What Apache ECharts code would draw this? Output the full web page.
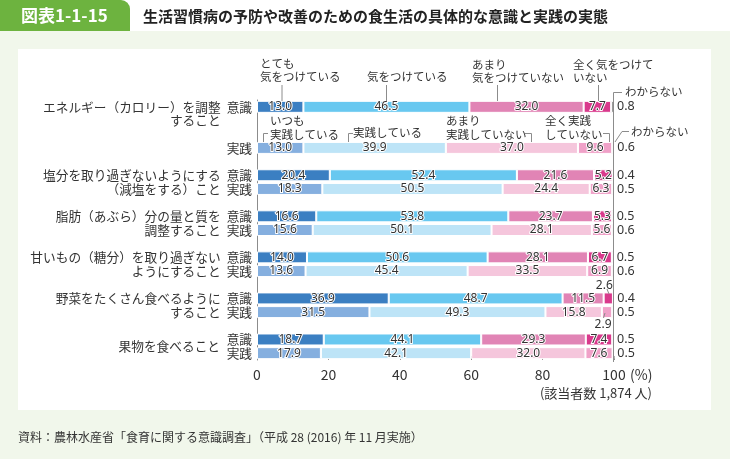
<!DOCTYPE html>
<html><head><meta charset="utf-8">
<script src="https://cdn.jsdelivr.net/npm/echarts@6/dist/echarts.min.js"></script>
<style>html,body{margin:0;padding:0;background:#f1f7eb}#c{width:730px;height:459px}</style>
</head><body><div id="c"></div>
<script>
// ---- data ----
const groupLine1 = ['エネルギー（カロリー）を調整','塩分を取り過ぎないようにする','脂肪（あぶら）分の量と質を','甘いもの（糖分）を取り過ぎない','野菜をたくさん食べるように','果物を食べること'];
const groupLine2 = ['すること','（減塩をする）こと','調整すること','ようにすること','すること',''];
const rowTypes = ['意識','実践'];
const ishikiTotemo     = [13.0, 20.4, 16.6, 14.0, 36.9, 18.7];
const ishikiKiwotsuke  = [46.5, 52.4, 53.8, 50.6, 48.7, 44.1];
const ishikiAmari      = [32.0, 21.6, 23.7, 28.1, 11.5, 29.3];
const ishikiMattaku    = [7.7, 5.2, 5.3, 6.7, 2.6, 7.4];
const ishikiWakaranai  = [0.8, 0.4, 0.5, 0.5, 0.4, 0.5];
const jissenItsumo     = [13.0, 18.3, 15.6, 13.6, 31.5, 17.9];
const jissenShiteiru   = [39.9, 50.5, 50.1, 45.4, 49.3, 42.1];
const jissenAmari      = [37.0, 24.4, 28.1, 33.5, 15.8, 32.0];
const jissenMattaku    = [9.6, 6.3, 5.6, 6.9, 2.9, 7.6];
const jissenWakaranai  = [0.6, 0.5, 0.6, 0.6, 0.5, 0.5];
const xTicks = [0, 20, 40, 60, 80, 100];

// ---- layout of row slots (top to bottom) ----
// ['r', group, typeIndex] = bar row, ['l2', group] = second text line only, ['b'] = blank
const slotLayout = [
  ['r',0,0],['l2',0],['b'],['r',0,1],['b'],
  ['r',1,0],['r',1,1],['b'],
  ['r',2,0],['r',2,1],['b'],
  ['r',3,0],['r',3,1],['b'],
  ['r',4,0],['r',4,1],['b'],
  ['r',5,0],['r',5,1]
];
const slotNames = slotLayout.map((s,i)=>'s'+i);

const ishikiSeries = [ishikiTotemo, ishikiKiwotsuke, ishikiAmari, ishikiMattaku, ishikiWakaranai];
const jissenSeries = [jissenItsumo, jissenShiteiru, jissenAmari, jissenMattaku, jissenWakaranai];
const ishikiColors = ['#3b7fc2','#68c8f0','#e184b5','#d9398c','#8a8a8a'];
const jissenColors = ['#85afdf','#bde4f7','#f5c6dc','#f0a1c8','#a8a8a8'];

const FONT = '"Noto Sans CJK JP","Noto Sans",sans-serif';
const insideLabel = {show:true, position:'inside', color:'#333', fontSize:12, fontFamily:'"Noto Sans",sans-serif',
  textBorderColor:'#fff', textBorderWidth:2, formatter:p=>p.value.toFixed(1)};

const series = [0,1,2,3,4].map(k => ({
  type:'bar', stack:'all', barWidth:12,
  itemStyle:{borderColor:'#fff', borderWidth:1},
  label: k===4 ? {show:true, position:'right', distance:3, color:'#333', fontSize:12.5, fontFamily:'"Noto Sans",sans-serif', formatter:p=>p.value.toFixed(1)} : insideLabel,
  data: slotLayout.map(s => {
    if (s[0] !== 'r') return '-';
    const g = s[1], t = s[2];
    const v = (t===0 ? ishikiSeries : jissenSeries)[k][g];
    const d = {value:v, itemStyle:{color:(t===0 ? ishikiColors : jissenColors)[k]}};
    if (k===3 && v < 4) {
      d.label = {position: t===0 ? 'top' : 'bottom', distance: t===0 ? 1 : 0, offset:[-4,0],
                 textBorderWidth:0};
    }
    return d;
  })
}));

function yLabel(value) {
  const i = slotNames.indexOf(value);
  const s = slotLayout[i];
  if (s[0]==='b') return '';
  if (s[0]==='l2') return '{g|' + groupLine2[s[1]] + '}{h|意識}';
  const g = s[1], t = s[2];
  let txt = '';
  if (g !== 5) txt = t===0 ? groupLine1[g] : (g===0 ? '' : groupLine2[g]);
  return (txt ? '{g|' + txt + '}' : '') + '{t|' + rowTypes[t] + '}';
}

const annText = (x, y, text, extra) => Object.assign({type:'text', x, y, z:100, style:{text, fill:'#333', font:'11.5px ' + FONT, textVerticalAlign:'middle', lineHeight:13.5}}, extra||{});
const line = (pts) => ({type:'polyline', z:100, shape:{points:pts}, style:{stroke:'#8c8c8c', lineWidth:1, fill:null}});

const option = {
  backgroundColor:'#f1f7eb',
  animation:false,
  grid:{left:257, top:100, width:357, height:260, containLabel:false},
  xAxis:{type:'value', min:0, max:100, interval:20,
    axisLine:{show:false}, splitLine:{show:false},
    axisTick:{show:true, inside:true, length:4, lineStyle:{color:'#8c8c8c'}},
    axisLabel:{color:'#333', fontSize:14, fontFamily:FONT, margin:8}},
  yAxis:{type:'category', inverse:true, data:slotNames,
    axisLine:{show:true, lineStyle:{color:'#8c8c8c'}}, axisTick:{show:false},
    axisLabel:{interval:0, margin:5, color:'#333', fontFamily:FONT, formatter:yLabel,
      rich:{g:{fontSize:12.7, color:'#333', fontFamily:FONT, padding:[0,6,0,0]},
            t:{fontSize:12.7, color:'#333', fontFamily:FONT},
            h:{fontSize:12.7, color:'rgba(0,0,0,0)', fontFamily:FONT}}}},
  series,
  graphic:[
    {type:'rect', z:-10, shape:{x:0,y:0,width:730,height:31}, style:{fill:'#fff'}},
    {type:'rect', z:-9, shape:{x:0,y:0,width:130,height:31,r:[0,9,0,0]}, style:{fill:'#6db33f'}},
    {type:'rect', z:-10, shape:{x:18,y:49,width:693,height:361}, style:{fill:'#fff'}},
    {type:'text', x:21, y:16, z:100, style:{text:'図表1-1-15', fill:'#fff', font:'bold 17px ' + FONT, textVerticalAlign:'middle'}},
    {type:'text', x:143, y:16, z:100, style:{text:'生活習慣病の予防や改善のための食生活の具体的な意識と実践の実態', fill:'#222', font:'bold 15px ' + FONT, textVerticalAlign:'middle'}},
    {type:'text', x:18, y:437, z:100, style:{text:'資料：農林水産省「食育に関する意識調査」（平成 28 (2016) 年 11 月実施）', fill:'#333', font:'12px ' + FONT, textVerticalAlign:'middle'}},
    {type:'text', x:630, y:375, z:100, style:{text:'(%)', fill:'#333', font:'14px ' + FONT, textVerticalAlign:'middle'}},
    {type:'text', x:652, y:393, z:100, style:{text:'(該当者数 1,874 人)', fill:'#333', font:'13px ' + FONT, textVerticalAlign:'middle', textAlign:'right'}},
    // 意識 annotations
    annText(260, 70, 'とても\n気をつけている'), line([[282,85],[282,101]]),
    annText(367, 77, '気をつけている'), line([[386.5,85],[386.5,101]]),
    annText(472, 71, 'あまり\n気をつけていない'), line([[497.5,85],[497.5,101]]),
    annText(573, 71, '全く気をつけて\nいない'), line([[598.5,85],[598.5,101]]),
    annText(625, 92, 'わからない'), line([[622,92.5],[613.5,92.5],[613.5,362]]),
    // 実践 annotations
    annText(270, 127.5, 'いつも\n実践している'), line([[263.5,142],[263.5,133.5],[268,133.5]]),
    annText(353, 133, '実践している'), line([[348.5,142],[348.5,133.5],[353,133.5]]),
    annText(446, 127.5, 'あまり\n実践していない'), line([[525,133.5],[531.5,133.5],[531.5,142]]),
    annText(545, 127.5, '全く実践\nしていない'), line([[603,133.5],[609.5,133.5],[609.5,142]]),
    annText(631, 131.5, 'わからない'), line([[629,131.5],[622,131.5],[615,142]]),
    // leaders for small values
    line([[607,289],[609,294]]),
    line([[605,313],[603.5,318]])
  ]
};

const chart = echarts.init(document.getElementById('c'), null, {renderer:'canvas'});
chart.setOption(option);
// centred group name for the last group
const yA = chart.convertToPixel({yAxisIndex:0}, slotNames[17]);
const yB = chart.convertToPixel({yAxisIndex:0}, slotNames[18]);
option.graphic.push({type:'text', x:220, y:(yA+yB)/2, z:100, style:{text:groupLine1[5], fill:'#333', font:'12.7px ' + FONT, textVerticalAlign:'middle', textAlign:'right'}});
chart.setOption({graphic:option.graphic});
</script>
</body></html>
